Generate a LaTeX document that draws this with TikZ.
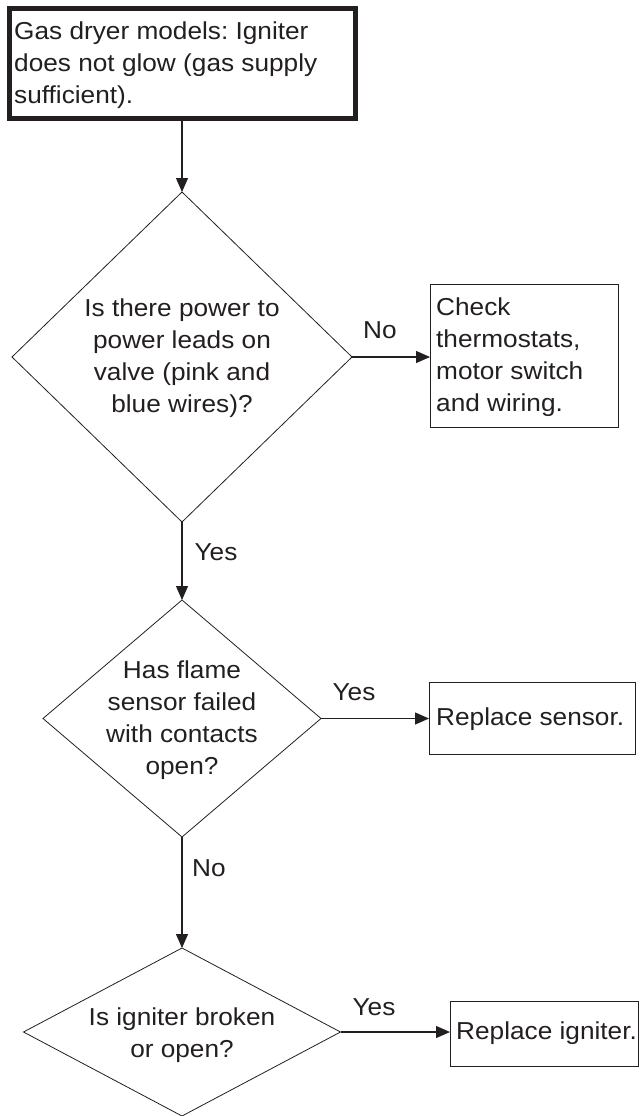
\documentclass[tikz,border=0pt]{standalone}
\usepackage{fontspec}
\setmainfont{Liberation Sans}[FakeStretch=1.07]
\usetikzlibrary{shapes.geometric,arrows.meta}
\definecolor{ink}{HTML}{231F20}
\frenchspacing
\begin{document}
\begin{tikzpicture}[x=1pt,y=-1pt,
  txt/.style={font=\fontsize{24.5}{32}\selectfont, text=ink, inner sep=0pt},
  dia/.style={draw=ink, shape=diamond, line width=0.8pt, inner sep=0pt, outer sep=0pt},
  boxn/.style={draw=ink, line width=1pt, inner sep=0pt, outer sep=0pt},
  arr/.style={draw=ink, line width=1.2pt, -{Triangle[length=14pt,width=12pt]}}]
\useasboundingbox (0,0) rectangle (640,1116);

% start box
\node[boxn, line width=5pt, minimum width=346pt, minimum height=110pt] (start) at (182.5,63.5) {};
\node[txt, anchor=west, align=left] (starttxt) at (14,65) {Gas dryer models: Igniter\\does not glow (gas supply\\sufficient).};

% decision 1
\node[dia, minimum width=340pt, minimum height=330pt] (d1) at (182,357) {};
\node[txt, align=center] (d1txt) at (182,358) {Is there power to\\power leads on\\valve (pink and\\blue wires)?};
\node[boxn, minimum width=188pt, minimum height=143pt] (b1) at (524,355.5) {};
\node[txt, anchor=west, align=left] (b1txt) at (436,357) {Check\\thermostats,\\motor switch\\and wiring.};

% decision 2
\node[dia, minimum width=278pt, minimum height=237pt] (d2) at (182,718.5) {};
\node[txt, align=center] (d2txt) at (182,720) {Has flame\\sensor failed\\with contacts\\open?};
\node[boxn, minimum width=206pt, minimum height=72pt] (b2) at (532,718) {};
\node[txt, anchor=west] (b2txt) at (436,719) {Replace sensor.};

% decision 3
\node[dia, minimum width=317pt, minimum height=168pt] (d3) at (182,1032) {};
\node[txt, align=center] (d3txt) at (182,1035) {Is igniter broken\\or open?};
\node[boxn, minimum width=188pt, minimum height=65pt] (b3) at (544,1033.5) {};
\node[txt, anchor=west] (b3txt) at (456,1033) {Replace igniter.};

% connectors
\draw[arr] (start.south -| d1.north) -- (d1.north);
\draw[arr] (d1.east) -- (d1.east -| b1.west);
\draw[arr] (d1.south) -- (d2.north);
\draw[arr] (d2.east) -- (d2.east -| b2.west);
\draw[arr] (d2.south) -- (d3.north);
\draw[arr] (d3.east) -- (d3.east -| b3.west);

% labels
\node[txt] (lno1) at (380,330) {No};
\node[txt] (lyes1) at (216,552) {Yes};
\node[txt] (lyes2) at (354,692) {Yes};
\node[txt] (lno2) at (209,868) {No};
\node[txt] (lyes3) at (374,1007) {Yes};
\end{tikzpicture}
\end{document}
